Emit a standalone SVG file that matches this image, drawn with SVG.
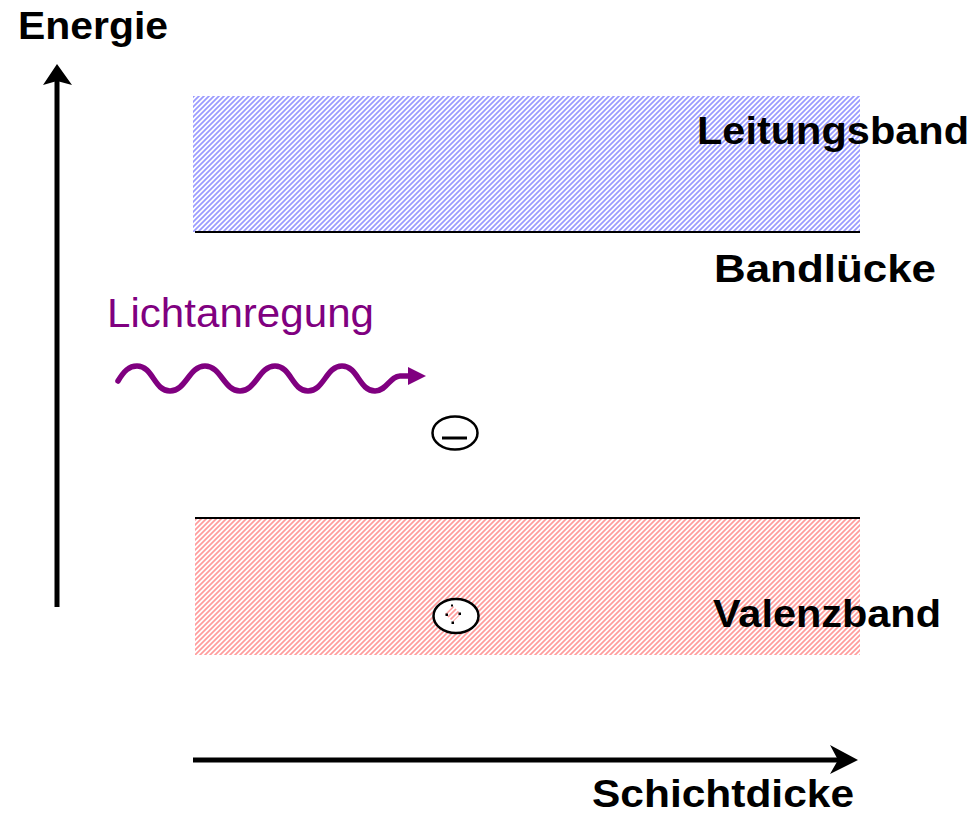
<svg xmlns="http://www.w3.org/2000/svg" width="979" height="816" viewBox="0 0 979 816">
  <style>
    .lbl { font-family: "Liberation Sans", Arial, sans-serif; font-weight: bold; font-size: 38px; fill: #000; }
    .light { font-family: "Liberation Sans", Arial, sans-serif; font-size: 40px; fill: #800080; }
    .edge { stroke: #000; stroke-width: 2; }
  </style>
  <defs>
    <pattern id="hatchBlue" patternUnits="userSpaceOnUse" width="5" height="5">
      <rect width="5" height="5" fill="#ffffff"/>
      <path d="M-1,6 L6,-1 M-1,1 L1,-1 M4,6 L6,4" stroke="#9a9aff" stroke-width="1.7"/>
    </pattern>
    <pattern id="hatchRed" patternUnits="userSpaceOnUse" width="5" height="5">
      <rect width="5" height="5" fill="#ffffff"/>
      <path d="M-1,6 L6,-1 M-1,1 L1,-1 M4,6 L6,4" stroke="#ff9c9c" stroke-width="1.7"/>
    </pattern>
  </defs>
  <rect width="979" height="816" fill="#ffffff"/>

  <g id="leitungsband">
    <rect x="193" y="96" width="667" height="136" fill="url(#hatchBlue)"/>
    <line class="edge" x1="195" y1="232" x2="860" y2="232"/>
    <text class="lbl" x="697" y="144" textLength="272" lengthAdjust="spacingAndGlyphs">Leitungsband</text>
  </g>

  <g id="bandluecke">
    <text class="lbl" x="714" y="282" textLength="222" lengthAdjust="spacingAndGlyphs">Bandlücke</text>
  </g>

  <g id="valenzband">
    <rect x="195" y="518" width="665" height="137" fill="url(#hatchRed)"/>
    <line class="edge" x1="195" y1="518" x2="860" y2="518"/>
    <text class="lbl" x="713" y="627" textLength="228" lengthAdjust="spacingAndGlyphs">Valenzband</text>
  </g>

  <g id="energie-achse">
    <line x1="57" y1="607" x2="57" y2="80" stroke="#000" stroke-width="5"/>
    <polygon points="57,64 43,85 57,81 72,85" fill="#000"/>
    <text class="lbl" x="18" y="39" textLength="150" lengthAdjust="spacingAndGlyphs">Energie</text>
  </g>

  <g id="schichtdicke-achse">
    <line x1="193" y1="760" x2="842" y2="760" stroke="#000" stroke-width="5"/>
    <polygon points="858,760 830,745 838,760 830,774" fill="#000"/>
    <text class="lbl" x="592" y="807" font-size="36" textLength="262" lengthAdjust="spacingAndGlyphs">Schichtdicke</text>
  </g>

  <g id="lichtanregung">
    <text class="light" x="107" y="327" textLength="267" lengthAdjust="spacingAndGlyphs">Lichtanregung</text>
    <path d="M118,381 C124,371 129,366 137,366 C153,366 154,391 170,391 C186,391 189,366 205,366 C221,366 224,391 240,391 C256,391 259,366 275,366 C291,366 292,391 308,391 C324,391 326,366 342,366 C358,366 359,391 375,391 C387,391 390,376 400,376 L410,376" fill="none" stroke="#800080" stroke-width="5.5" stroke-linecap="round"/>
    <polygon points="408,367 426,376 408,385" fill="#800080"/>
  </g>

  <g id="elektron">
    <ellipse cx="455" cy="433" rx="22.5" ry="16.5" fill="#ffffff" stroke="#000" stroke-width="2.5"/>
    <line x1="442" y1="438" x2="467" y2="438" stroke="#000" stroke-width="3"/>
  </g>

  <g id="loch">
    <ellipse cx="456" cy="616" rx="22.5" ry="17" fill="#ffffff" stroke="#000" stroke-width="2.5"/>
    <polygon points="453,606 461,614 453,622 445,614" fill="url(#hatchRed)"/>
    <rect x="445.5" y="613.5" width="2.5" height="2.5" fill="#000"/>
    <rect x="458.5" y="612.5" width="2.5" height="2.5" fill="#000"/>
    <rect x="451.5" y="621.5" width="2.5" height="2.5" fill="#000"/>
    <rect x="451" y="604.5" width="2" height="2" fill="#000"/>
  </g>
</svg>
